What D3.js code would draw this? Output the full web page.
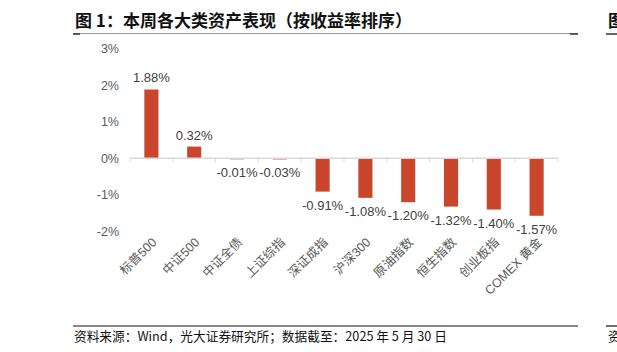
<!DOCTYPE html>
<html>
<head>
<meta charset="utf-8">
<script src="https://cdn.jsdelivr.net/npm/d3@7"></script>
<style>
  body { margin: 0; background: #fff; }
  svg text { font-family: "Liberation Sans", Arial, "Noto Sans CJK SC", sans-serif; }
</style>
</head>
<body>
<div id="chart"></div>
<script>
const categories = ["标普500", "中证500", "中证全债", "上证综指", "深证成指", "沪深300", "原油指数", "恒生指数", "创业板指", "COMEX 黄金"];
const returns = [1.88, 0.32, -0.01, -0.03, -0.91, -1.08, -1.20, -1.32, -1.40, -1.57];
const yTicks = [3, 2, 1, 0, -1, -2];
const titleText = "图 1：本周各大类资产表现（按收益率排序）";
const sourceText = "资料来源：Wind，光大证券研究所；数据截至：2025 年 5 月 30 日";

const W = 617, H = 352;
const svg = d3.select("#chart").append("svg")
    .attr("width", W)
    .attr("height", H);

// title + rule
svg.append("text")
    .attr("x", 75).attr("y", 27)
    .style("font-family", "'Noto Sans CJK SC', sans-serif")
    .style("font-weight", "bold")
    .style("font-size", "17px")
    .attr("fill", "#111")
    .text(titleText);
svg.append("line").attr("x1", 73).attr("x2", 578).attr("y1", 33.5).attr("y2", 33.5)
    .attr("stroke", "#999").attr("stroke-width", 1);
svg.append("line").attr("x1", 73).attr("x2", 80).attr("y1", 34).attr("y2", 34)
    .attr("stroke", "#333").attr("stroke-width", 1.5);
svg.append("line").attr("x1", 570).attr("x2", 578).attr("y1", 34).attr("y2", 34)
    .attr("stroke", "#333").attr("stroke-width", 1.5);
// cut-off neighbour chart at the right edge
svg.append("text").attr("x", 608).attr("y", 27)
    .style("font-family", "'Noto Sans CJK SC', sans-serif")
    .style("font-weight", "bold").style("font-size", "17px").attr("fill", "#111").text("图");
svg.append("line").attr("x1", 606).attr("x2", 617).attr("y1", 34).attr("y2", 34)
    .attr("stroke", "#333").attr("stroke-width", 1.5);

// scales
const x = d3.scaleBand()
    .domain(categories)
    .range([130, 558])
    .paddingInner(0.67)
    .paddingOuter(0.335);

const y = d3.scaleLinear()
    .domain([-2, 3])
    .range([231.5, 48.5]);

// y axis labels (no line)
const yAxis = svg.append("g")
    .attr("transform", "translate(119,0)")
    .call(d3.axisLeft(y).tickValues(yTicks).tickFormat(d => d + "%").tickSize(0).tickPadding(0));
yAxis.select(".domain").remove();
yAxis.selectAll("text")
    .style("font-size", "12.5px")
    .attr("fill", "#595959");

// bars
svg.selectAll(".bar")
    .data(returns)
    .enter().append("rect")
    .attr("class", "bar")
    .attr("x", (d, i) => x(categories[i]))
    .attr("width", x.bandwidth())
    .attr("y", d => y(Math.max(0, d)))
    .attr("height", d => Math.max(1, Math.abs(y(d) - y(0))))
    .attr("fill", "#c9452b");

// zero axis with band ticks
const band = (558 - 130) / categories.length;
const xAxisG = svg.append("g");
xAxisG.append("line")
    .attr("x1", 130).attr("x2", 558)
    .attr("y1", y(0)).attr("y2", y(0))
    .attr("stroke", "#d9d9d9").attr("stroke-width", 1.5);
xAxisG.selectAll(".tk")
    .data(d3.range(categories.length + 1))
    .enter().append("line")
    .attr("x1", i => 130 + i * band).attr("x2", i => 130 + i * band)
    .attr("y1", y(0)).attr("y2", y(0) + 4)
    .attr("stroke", "#d9d9d9").attr("stroke-width", 1);

// value labels
svg.selectAll(".val")
    .data(returns)
    .enter().append("text")
    .attr("x", (d, i) => x(categories[i]) + x.bandwidth() / 2)
    .attr("y", d => d >= 0 ? y(d) - 7 : y(d) + 18)
    .attr("text-anchor", "middle")
    .style("font-size", "13px")
    .attr("fill", "#404040")
    .text(d => d.toFixed(2) + "%");

// category labels, rotated
svg.selectAll(".cat")
    .data(categories)
    .enter().append("text")
    .attr("transform", d => `translate(${x(d) + x.bandwidth() / 2 + 6},${243}) rotate(-45)`)
    .attr("text-anchor", "end")
    .style("font-size", "12.5px")
    .attr("fill", "#595959")
    .text(d => d);

// footer
svg.append("line").attr("x1", 73).attr("x2", 578).attr("y1", 326).attr("y2", 326)
    .attr("stroke", "#111").attr("stroke-width", 1.2);
svg.append("text")
    .attr("x", 74).attr("y", 341)
    .style("font-size", "12.7px")
    .style("font-family", "'Noto Sans CJK SC', sans-serif")
    .attr("fill", "#111")
    .text(sourceText);
svg.append("line").attr("x1", 606).attr("x2", 617).attr("y1", 326).attr("y2", 326)
    .attr("stroke", "#111").attr("stroke-width", 1.2);
svg.append("text").attr("x", 608).attr("y", 341)
    .style("font-size", "12.7px").style("font-family", "'Noto Sans CJK SC', sans-serif")
    .attr("fill", "#111").text("资");
</script>
</body>
</html>
